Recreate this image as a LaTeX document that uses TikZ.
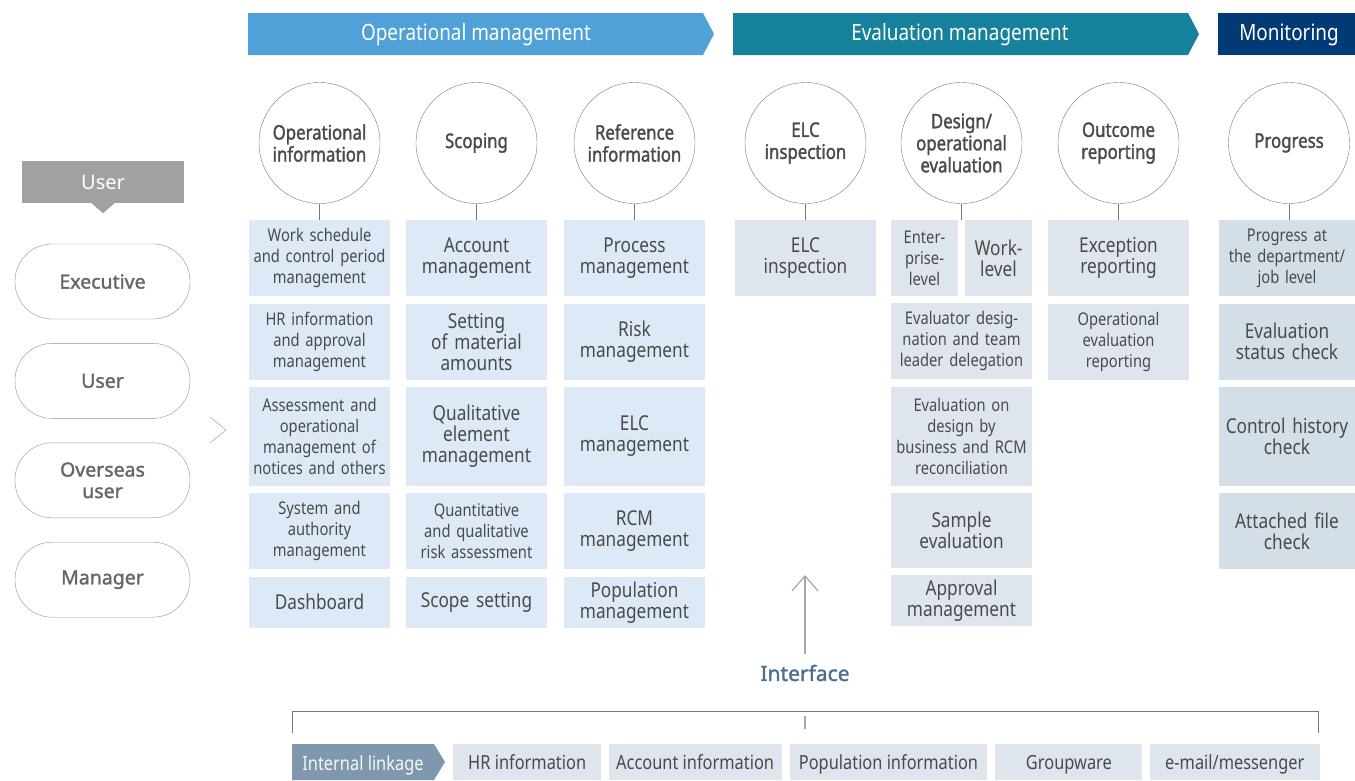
\documentclass[tikz,border=0pt]{standalone}
\usepackage{fontspec}
\setmainfont{Noto Sans}[FakeStretch=0.84]
\newfontfamily\semib{Noto Sans}[FakeStretch=0.84,FakeBold=1.6]
\newfontfamily\widesemib{Noto Sans}[FakeBold=1.6]
\newfontfamily\widefont{Noto Sans}
\usetikzlibrary{arrows.meta,positioning}

\definecolor{opblue}{HTML}{4FA1D8}
\definecolor{evteal}{HTML}{16819A}
\definecolor{monnavy}{HTML}{023A75}
\definecolor{usergray}{HTML}{A0A1A0}
\definecolor{linkblue}{HTML}{7F98AD}
\definecolor{opbox}{HTML}{DDE9F6}
\definecolor{evbox}{HTML}{DFE5EC}
\definecolor{monbox}{HTML}{D3DEE6}
\definecolor{linegray}{HTML}{777777}
\definecolor{arrowgray}{HTML}{A8A8A8}
\definecolor{boxtext}{HTML}{4A4A4A}
\definecolor{pilltext}{HTML}{666666}
\definecolor{ifaceblue}{HTML}{4C6F8D}

\begin{document}
\begin{tikzpicture}[x=1pt,y=-1pt,node distance=7pt,
  >={Straight Barb[length=15pt,width=26pt]},
  head text/.style={text=white,font=\fontsize{22.5}{26}\selectfont},
  user node/.style={draw=linegray!80,rounded corners=37pt,minimum width=175pt,minimum height=75pt,
    text=pilltext,align=center,font=\fontsize{19.5}{23.5}\selectfont\widesemib},
  stage node/.style={circle,draw=linegray,minimum size=121pt,inner sep=0pt,align=center,
    text=boxtext,font=\fontsize{20}{22}\selectfont\semib},
  box/.style={anchor=north,minimum width=141pt,text width=139pt,inner sep=0pt,align=center,
    text=boxtext,font=\fontsize{17.5}{21}\selectfont},
  large text/.style={font=\fontsize{20.5}{21}\selectfont},
  op node/.style={box,fill=opbox},
  ev node/.style={box,fill=evbox},
  mon node/.style={box,fill=monbox,minimum width=136pt,text width=134pt},
  link node/.style={anchor=north west,fill=evbox,minimum height=36pt,inner sep=0pt,text depth=0pt,
    text=boxtext,font=\fontsize{19.5}{22}\selectfont}]

 \useasboundingbox (0,0) rectangle (1355,780);

 % header bars
 \fill[opblue] (248,13) -- (703,13) -- (714,34) -- (703,55) -- (248,55) -- cycle;
 \fill[evteal] (733,13) -- (1188,13) -- (1199,34) -- (1188,55) -- (733,55) -- cycle;
 \fill[monnavy] (1218,13) rectangle (1355,55);
 \node[head text] (opm) at (476,35) {Operational management};
 \node[head text] (evm) at (960,35) {Evaluation management};
 \node[head text] (mon) at (1289,35) {Monitoring};

 % users
 \node[fill=usergray,minimum width=162pt,minimum height=42pt,text=white,
   font=\fontsize{20}{24}\selectfont\widefont] (usr) at (103,182) {User};
 \fill[usergray] ([xshift=-11.5pt]usr.south) -- ([xshift=11.5pt]usr.south) -- ([yshift=-10pt]usr.south) -- cycle;
 \node[user node] (exe) at (102.5,281.5) {Executive};
 \node[user node] (use) [below=24pt of exe] {User};
 \node[user node] (ovs) [below=24pt of use] {Overseas\\[-2pt]user};
 \node[user node] (mgr) [below=24pt of ovs] {Manager};
 \draw[linegray!80] (210,417) -- (226,430) -- (210,443);

 % stages
 \node[stage node] (opinfo) at (319.5,143) {Operational\\information};
 \node[stage node] (scop) at (476.5,143) {Scoping};
 \node[stage node] (refinfo) at (634.5,143) {Reference\\information};
 \node[stage node] (elc) at (805.5,143) {ELC\\inspection};
 \node[stage node] (deval) at (961.5,143) {Design/\\operational\\evaluation};
 \node[stage node] (outrep) at (1118.5,143) {Outcome\\reporting};
 \node[stage node] (prog) at (1289,143) {Progress};

 % operational information
 \node[op node,minimum height=76pt] (wsm) at (319.5,220) {Work schedule\\and control period\\management};
 \node[op node,minimum height=76pt] (hra) [below=of wsm] {HR information\\and approval\\management};
 \node[op node,minimum height=99pt] (aom) [below=of hra] {Assessment and\\operational\\management of\\notices and others};
 \node[op node,minimum height=76pt] (sam) [below=of aom] {System and\\authority\\management};
 \node[op node,large text,minimum height=51pt] (dash) [below=of sam] {Dashboard};

 % scoping
 \node[op node,large text,minimum height=76pt] (acc) at (476.5,220) {Account\\management};
 \node[op node,large text,minimum height=76pt] (smat) [below=of acc] {Setting\\of material\\amounts};
 \node[op node,large text,minimum height=99pt] (qem) [below=of smat] {Qualitative\\element\\management};
 \node[op node,minimum height=76pt] (qqra) [below=of qem] {Quantitative\\and qualitative\\risk assessment};
 \node[op node,large text,minimum height=51pt] (scset) [below=of qqra] {Scope setting};

 % reference information
 \node[op node,large text,minimum height=76pt] (proc) at (634.5,220) {Process\\management};
 \node[op node,large text,minimum height=76pt] (risk) [below=of proc] {Risk\\management};
 \node[op node,large text,minimum height=99pt] (elcm) [below=of risk] {ELC\\management};
 \node[op node,large text,minimum height=76pt] (rcm) [below=of elcm] {RCM\\management};
 \node[op node,large text,minimum height=51pt] (popm) [below=of rcm] {Population\\management};

 % evaluation
 \node[ev node,large text,minimum height=76pt] (elci) at (805.5,220) {ELC\\inspection};
 \node[ev node,minimum height=76pt,minimum width=67pt,text width=65pt] (ent) at (924.5,220) {Enter-\\prise-\\level};
 \node[ev node,large text,minimum height=76pt,minimum width=67pt,text width=65pt] (wrk) at (998.5,220) {Work-\\level};
 \node[ev node,minimum height=76pt] (evd) at (961.5,303) {Evaluator desig-\\nation and team\\leader delegation};
 \node[ev node,minimum height=99pt] (evdes) [below=of evd] {Evaluation on\\design by\\business and RCM\\reconciliation};
 \node[ev node,large text,minimum height=75pt] (samp) [below=of evdes] {Sample\\evaluation};
 \node[ev node,large text,minimum height=51pt] (appr) at (961.5,575) {Approval\\management};
 \node[ev node,large text,minimum height=76pt] (exc) at (1118.5,220) {Exception\\reporting};
 \node[ev node,minimum height=76pt] (oer) [below=of exc] {Operational\\evaluation\\reporting};

 % monitoring
 \node[mon node,minimum height=76pt] (prd) at (1287,220) {Progress at\\the department/\\job level};
 \node[mon node,large text,minimum height=76pt] (evs) [below=of prd] {Evaluation\\status check};
 \node[mon node,large text,minimum height=99pt] (chc) [below=of evs] {Control history\\check};
 \node[mon node,large text,minimum height=76pt] (afc) [below=of chc] {Attached file\\check};

 \coordinate (dtop) at (961.5,220);
 \draw[linegray] (opinfo) -- (wsm);
 \draw[linegray] (scop) -- (acc);
 \draw[linegray] (refinfo) -- (proc);
 \draw[linegray] (elc) -- (elci);
 \draw[linegray] (deval) -- (dtop);
 \draw[linegray] (outrep) -- (exc);
 \draw[linegray] (prog.south) -- (prog.south |- prd.north);

 % interface
 \node[text=ifaceblue,font=\fontsize{21}{25}\selectfont\widesemib] (iface) at (805,673) {Interface};
 \coordinate (elctip) at (805,575);
 \coordinate (bm) at (805,711);
 \coordinate (bl) at (292,733);
 \coordinate (br) at (1318,733);
 \draw[->,arrowgray,line width=1.2pt] (iface.north) ++(0,-7) -- (elctip);
 \draw[arrowgray,line width=1.2pt] ([yshift=-18pt]bm) -- ([yshift=-5pt]bm);
 \draw[linegray] (bl) -- ++(0,-22) -| (br);

 % internal linkage
 \fill[linkblue] (292,744) -- (434,744) -- (445,762) -- (434,780) -- (292,780) -- cycle;
 \node[text=white!92!linkblue,font=\fontsize{19.5}{22}\selectfont] (ilink) at (363,765) {Internal linkage};
 \node[link node,minimum width=148pt] (hrinf) at (453,744) {HR information};
 \node[link node,minimum width=173pt] (accinf) [right=7pt of hrinf] {Account information};
 \node[link node,minimum width=197pt] (popinf) [right=8pt of accinf] {Population information};
 \node[link node,minimum width=147pt] (grp) [right=8pt of popinf] {Groupware};
 \node[link node,minimum width=170pt] (mail) [right=7pt of grp] {e-mail/messenger};

\end{tikzpicture}
\end{document}
